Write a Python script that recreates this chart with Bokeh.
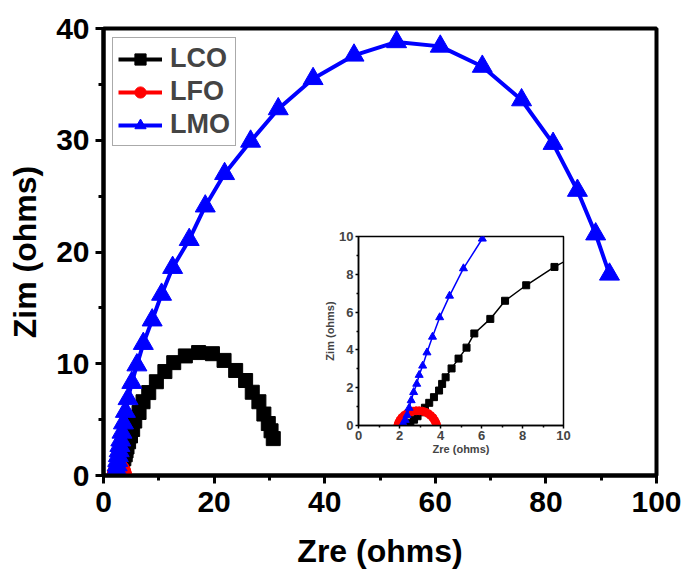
from bokeh.plotting import figure
from bokeh.layouts import column
from bokeh.models import Legend, LegendItem, FixedTicker, Range1d
from bokeh.embed import file_html
from bokeh.resources import INLINE

# ---------------- data ----------------
lco_x = [2.39, 2.53, 2.71, 2.88, 3.06, 3.24, 3.45, 3.68, 3.93, 4.08, 4.25, 4.54, 4.88, 5.27, 5.65,
         6.43, 7.15, 8.18, 9.56, 11.1, 12.7, 14.8, 17.2, 19.7, 21.8, 23.9, 25.7, 26.9, 28.1, 29.0,
         29.8, 30.3, 30.7]
lco_y = [0.05, 0.15, 0.31, 0.49, 0.70, 0.94, 1.20, 1.50, 1.85, 2.20, 2.55, 3.02, 3.54, 4.12, 4.87,
         5.64, 6.60, 7.42, 8.39, 9.3, 10.1, 10.7, 11.0, 10.9, 10.3, 9.4, 8.5, 7.45, 6.6, 5.5,
         4.65, 4.0, 3.3]

lfo_x = [1.92, 1.96, 2.03, 2.12, 2.24, 2.37, 2.51, 2.66, 2.81, 2.96, 3.11, 3.26, 3.40, 3.52, 3.63,
         3.71, 3.77, 3.81]
lfo_y = [0.02, 0.15, 0.29, 0.42, 0.54, 0.64, 0.71, 0.76, 0.78, 0.78, 0.76, 0.71, 0.63, 0.53, 0.41,
         0.28, 0.15, 0.03]

lmo_x = [2.18, 2.28, 2.37, 2.47, 2.57, 2.69, 2.84, 2.96, 3.13, 3.34, 3.61, 3.96, 4.44, 5.12, 6.04,
         7.2, 8.8, 10.5, 12.5, 15.5, 18.4, 21.9, 26.6, 31.6, 37.9, 45.3, 53.0, 60.9, 68.5, 75.6,
         81.3, 85.7, 89.0, 91.5]
lmo_y = [0.12, 0.29, 0.55, 0.93, 1.33, 1.76, 2.20, 2.67, 3.16, 3.86, 4.69, 5.72, 6.86, 8.31, 9.88,
         11.8, 13.9, 16.2, 18.6, 21.1, 24.1, 27.0, 29.9, 32.8, 35.5, 37.6, 38.8, 38.4, 36.6, 33.6,
         29.7, 25.5, 21.6, 18.0]

series_names = ["LCO", "LFO", "LMO"]
main_x_ticks = [0, 20, 40, 60, 80, 100]
main_x_minor = [10, 30, 50, 70, 90]
main_y_ticks = [0, 10, 20, 30, 40]
main_y_minor = [5, 15, 25, 35]
inset_ticks = [0, 2, 4, 6, 8, 10]
inset_minor = [1, 3, 5, 7, 9]

FONT = "Liberation Sans"
COLORS = ["#000000", "#ff0000", "#0000ff"]
MARKERS = ["square", "circle", "triangle"]
data = [(lco_x, lco_y), (lfo_x, lfo_y), (lmo_x, lmo_y)]

# ---------------- main figure ----------------
p = figure(width=690, height=577, x_range=Range1d(0, 100), y_range=Range1d(0, 40),
           output_backend="svg", toolbar_location=None,
           min_border_left=103, min_border_right=34, min_border_top=28, min_border_bottom=102)
p.xgrid.visible = False
p.ygrid.visible = False
p.outline_line_color = "black"
p.outline_line_width = 4
p.outline_line_alpha = 1
p.background_fill_color = "white"
p.border_fill_color = "white"

p.xaxis.ticker = FixedTicker(ticks=main_x_ticks, minor_ticks=main_x_minor)
p.yaxis.ticker = FixedTicker(ticks=main_y_ticks, minor_ticks=main_y_minor)
for ax in (p.xaxis, p.yaxis):
    ax.axis_line_width = 4
    ax.major_tick_line_width = 3
    ax.minor_tick_line_width = 3
    ax.major_tick_out = 8
    ax.major_tick_in = 0
    ax.minor_tick_out = 5
    ax.minor_tick_in = 0
    ax.major_label_text_font = FONT
    ax.major_label_text_font_style = "bold"
    ax.major_label_text_font_size = "30px"
    ax.major_label_text_color = "black"
    ax.axis_label_text_font = FONT
    ax.axis_label_text_font_style = "bold"
    ax.axis_label_text_font_size = "32px"
    ax.axis_label_text_color = "black"
p.xaxis.axis_label = "Zre (ohms)"
p.yaxis.axis_label = "Zim (ohms)"
p.xaxis.major_label_standoff = 8
p.xaxis.axis_label_standoff = 18
p.yaxis.major_label_standoff = 6
p.yaxis.axis_label_standoff = 10

items = []
main_sizes = [14, 14, 20]
for (xs, ys), c, m, name, s in zip(data, COLORS, MARKERS, series_names, main_sizes):
    ln = p.line(xs, ys, line_color=c, line_width=4)
    sc = p.scatter(xs, ys, marker=m, size=s, fill_color=c, line_color=c)
    items.append(LegendItem(label=name, renderers=[ln, sc]))

legend = Legend(items=items, location="top_left", margin=9, padding=5, spacing=2,
                glyph_width=44, glyph_height=28, label_height=28, label_standoff=8,
                label_text_font=FONT, label_text_font_style="bold", label_text_font_size="27px",
                border_line_color="#555555", border_line_width=1.5, background_fill_alpha=1)
p.add_layout(legend)

# ---------------- inset ----------------
ins = figure(width=342, height=231, x_range=Range1d(0, 10), y_range=Range1d(0, 10),
             output_backend="svg", toolbar_location=None,
             min_border_left=50, min_border_right=10, min_border_top=10, min_border_bottom=30)
ins.xgrid.visible = False
ins.ygrid.visible = False
ins.outline_line_color = "black"
ins.outline_line_width = 1.5
ins.outline_line_alpha = 1
ins.background_fill_alpha = 0
ins.border_fill_alpha = 0
ins.xaxis.ticker = FixedTicker(ticks=inset_ticks, minor_ticks=inset_minor)
ins.yaxis.ticker = FixedTicker(ticks=inset_ticks, minor_ticks=inset_minor)
for ax in (ins.xaxis, ins.yaxis):
    ax.axis_line_width = 1.5
    ax.major_tick_line_width = 1.5
    ax.minor_tick_line_width = 1.5
    ax.major_tick_out = 3
    ax.major_tick_in = 0
    ax.minor_tick_out = 2
    ax.minor_tick_in = 0
    ax.major_label_text_font = FONT
    ax.major_label_text_font_style = "bold"
    ax.major_label_text_font_size = "13px"
    ax.axis_label_text_font = FONT
    ax.axis_label_text_font_style = "bold"
    ax.axis_label_text_font_size = "11px"
    ax.major_label_standoff = 2
    ax.axis_label_standoff = 0
ins.xaxis.axis_label = "Zre (ohms)"
ins.yaxis.axis_label = "Zim (ohms)"

inset_sizes = [7, 8, 8]
for (xs, ys), c, m, s in zip(data, COLORS, MARKERS, inset_sizes):
    ins.line(xs, ys, line_color=c, line_width=1.5)
    ins.scatter(xs, ys, marker=m, size=s, fill_color=c, line_color=c)

# place inset over the main plot
ins.styles = {"position": "absolute", "left": "255px", "top": "226px"}

layout = column(p, ins, spacing=0)
open("out.html", "w").write(file_html(layout, INLINE))
